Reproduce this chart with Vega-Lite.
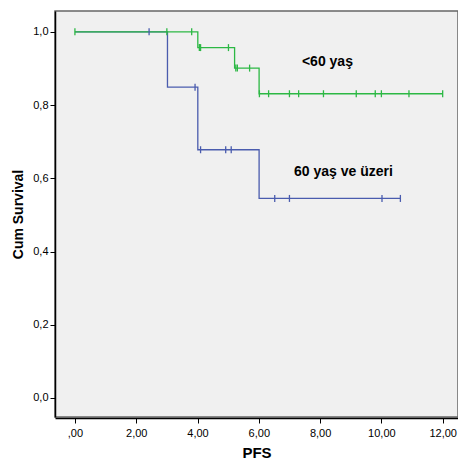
{
  "$schema": "https://vega.github.io/schema/vega-lite/v6.json",
  "autosize": "none",
  "width": 403,
  "height": 406,
  "padding": {"left": 55, "top": 11, "right": 0, "bottom": 46},
  "background": "white",
  "config": {
    "font": "Liberation Sans",
    "view": {"fill": "#f0f0f0", "stroke": "#666666", "strokeWidth": 1.5},
    "axis": {"grid": false, "domainColor": "black", "tickColor": "black", "labelColor": "black", "labelFontSize": 11, "labelFont": "Liberation Sans", "titleFont": "Liberation Sans", "titleFontSize": 14, "titleFontWeight": "bold", "titleColor": "black", "domainWidth": 1.5}
  },
  "datasets": {
    "steps": [
      {"group": "60 yaş ve üzeri", "t": 0, "s": 1},
      {"group": "60 yaş ve üzeri", "t": 3.02, "s": 0.849},
      {"group": "60 yaş ve üzeri", "t": 4.01, "s": 0.678},
      {"group": "60 yaş ve üzeri", "t": 6.01, "s": 0.545},
      {"group": "60 yaş ve üzeri", "t": 10.62, "s": 0.545},
      {"group": "<60 yaş", "t": 0, "s": 1},
      {"group": "<60 yaş", "t": 4.01, "s": 0.957},
      {"group": "<60 yaş", "t": 5.21, "s": 0.901},
      {"group": "<60 yaş", "t": 6.01, "s": 0.831},
      {"group": "<60 yaş", "t": 12.0, "s": 0.831}
    ],
    "censors": [
      {"group": "<60 yaş", "t": 0, "s": 1},
      {"group": "<60 yaş", "t": 3.0, "s": 1},
      {"group": "<60 yaş", "t": 3.81, "s": 1},
      {"group": "<60 yaş", "t": 4.06, "s": 0.957},
      {"group": "<60 yaş", "t": 4.1, "s": 0.957},
      {"group": "<60 yaş", "t": 5.01, "s": 0.957},
      {"group": "<60 yaş", "t": 5.25, "s": 0.901},
      {"group": "<60 yaş", "t": 5.3, "s": 0.901},
      {"group": "<60 yaş", "t": 5.7, "s": 0.901},
      {"group": "<60 yaş", "t": 6.02, "s": 0.831},
      {"group": "<60 yaş", "t": 6.32, "s": 0.831},
      {"group": "<60 yaş", "t": 7.0, "s": 0.831},
      {"group": "<60 yaş", "t": 7.3, "s": 0.831},
      {"group": "<60 yaş", "t": 8.11, "s": 0.831},
      {"group": "<60 yaş", "t": 9.18, "s": 0.831},
      {"group": "<60 yaş", "t": 9.8, "s": 0.831},
      {"group": "<60 yaş", "t": 10.0, "s": 0.831},
      {"group": "<60 yaş", "t": 10.9, "s": 0.831},
      {"group": "<60 yaş", "t": 12.0, "s": 0.831},
      {"group": "60 yaş ve üzeri", "t": 2.42, "s": 1},
      {"group": "60 yaş ve üzeri", "t": 3.92, "s": 0.849},
      {"group": "60 yaş ve üzeri", "t": 4.1, "s": 0.678},
      {"group": "60 yaş ve üzeri", "t": 4.92, "s": 0.678},
      {"group": "60 yaş ve üzeri", "t": 5.1, "s": 0.678},
      {"group": "60 yaş ve üzeri", "t": 6.52, "s": 0.545},
      {"group": "60 yaş ve üzeri", "t": 7.0, "s": 0.545},
      {"group": "60 yaş ve üzeri", "t": 10.02, "s": 0.545},
      {"group": "60 yaş ve üzeri", "t": 10.62, "s": 0.545}
    ],
    "labels": [
      {"group": "<60 yaş", "t": 8.24, "s": 0.918},
      {"group": "60 yaş ve üzeri", "t": 8.76, "s": 0.617}
    ]
  },
  "encoding": {
    "x": {"field": "t", "type": "quantitative", "scale": {"domain": [-0.65, 12.5], "nice": false, "zero": false},
      "axis": {"values": [0, 2, 4, 6, 8, 10, 12], "title": "PFS", "titleFontSize": 15, "titlePadding": 7, "tickSize": 5, "labelPadding": 4, "offset": 1,
        "labelExpr": "datum.value == 0 ? ',00' : replace(format(datum.value, '.2f'), '.', ',')"}},
    "y": {"field": "s", "type": "quantitative", "scale": {"domain": [-0.052, 1.057], "nice": false, "zero": false},
      "axis": {"values": [0, 0.2, 0.4, 0.6, 0.8, 1.0], "title": "Cum Survival", "titlePadding": 7, "tickSize": 5, "labelPadding": 2,
        "labelExpr": "replace(format(datum.value, '.1f'), '.', ',')"}},
    "color": {"field": "group", "type": "nominal", "scale": {"domain": ["<60 yaş", "60 yaş ve üzeri"], "range": ["#2cb844", "#4a5cae"]}, "legend": null}
  },
  "layer": [
    {"data": {"name": "steps"}, "mark": {"type": "line", "interpolate": "step-after", "strokeWidth": 1.3},
      "encoding": {"order": {"field": "t", "type": "quantitative"}, "detail": {"field": "group"}}},
    {"data": {"name": "censors"}, "mark": {"type": "point", "shape": "M0,-1L0,1", "size": 49, "strokeWidth": 1.3, "filled": false, "opacity": 1}},
    {"data": {"name": "labels"}, "mark": {"type": "text", "fontSize": 14, "fontWeight": "bold", "color": "black", "font": "Liberation Sans"},
      "encoding": {"text": {"field": "group"}, "color": {"value": "black"}}}
  ]
}
